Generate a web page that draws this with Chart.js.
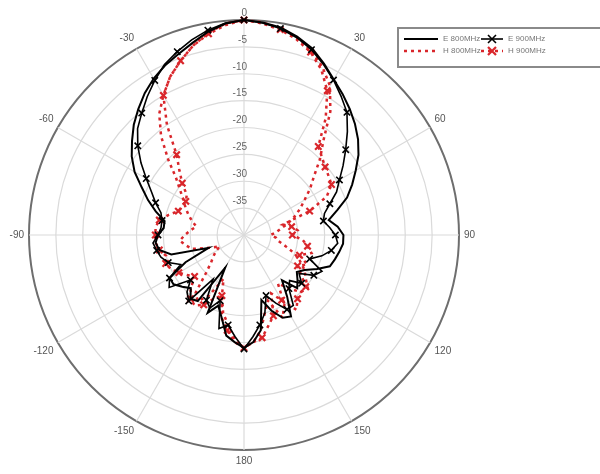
<!DOCTYPE html>
<html>
<head>
<meta charset="utf-8">
<script src="https://cdn.jsdelivr.net/npm/chart.js@4.4.0/dist/chart.umd.min.js"></script>
<style>
  html, body { margin: 0; padding: 0; background: #fff; }
  #wrap { position: relative; width: 600px; height: 474px; }
</style>
</head>
<body>
<div id="wrap"><canvas id="myChart"></canvas></div>
<script>
// angle in degrees, clockwise from the top (values > 180 are shown as negative)
const angles = [0, 5, 10, 15, 20, 25, 30, 35, 40, 45, 50, 55,
  60, 65, 70, 75, 80, 85, 90, 95, 100, 105, 110, 115,
  120, 125, 130, 135, 140, 145, 150, 155, 160, 165, 170, 175,
  180, 185, 190, 195, 200, 205, 210, 215, 220, 225, 230, 235,
  240, 245, 250, 255, 260, 265, 270, 275, 280, 285, 290, 295,
  300, 305, 310, 315, 320, 325, 330, 335, 340, 345, 350, 355];

// normalized gain in dB
const e800 = [0, -0.3, -0.8, -1.8, -3, -4.8, -6.6, -8, -9.4, -10.8, -12.3, -14,
  -16, -17.8, -19.6, -22, -24, -22.5, -21.5, -21.5, -22, -22.5, -23, -25,
  -27, -28, -27, -26, -29, -26, -22.5, -23, -25, -27.5, -22, -20,
  -19, -20, -21, -24, -26, -24, -33, -25, -24.5, -26, -25, -24,
  -24, -28, -33, -26, -24, -23.5, -24, -25, -25, -23, -21, -19,
  -16.5, -14.5, -12.8, -11, -9.4, -7.8, -6.4, -5.2, -4.2, -3, -1.6, -0.5];

const e900 = [0, -0.4, -1, -2, -3.3, -5, -6.7, -8.5, -10.2, -12.8, -15.3, -17.5,
  -19.5, -21, -23, -24.5, -25, -24, -23, -22.5, -23.5, -25, -27, -24,
  -25, -27.5, -26, -28, -27, -24, -24, -26, -28, -25, -23, -21,
  -18.8, -21, -23, -22, -27, -25, -26, -30, -24, -25, -27, -23,
  -24, -27, -25, -24, -23.5, -23, -24, -24.5, -24.5, -24, -22.5, -21,
  -19, -16.6, -14.2, -12, -10.4, -8.6, -6.8, -5, -3.7, -2.4, -1.3, -0.4];

const h800 = [0, -0.3, -1, -2, -3.5, -5.5, -8, -12, -17, -20, -23, -25,
  -27, -28.5, -30, -31.5, -33, -34, -35, -34, -33.5, -32, -30, -28.5,
  -27, -26, -24.5, -25, -27, -29, -25, -23, -27, -25, -22, -20,
  -19, -20.5, -23, -25, -28, -31, -27, -25, -26, -30, -32, -33,
  -34, -35, -33, -30, -29, -28, -29, -30, -31, -30, -29, -28,
  -27, -25.5, -23.5, -20, -16, -12.5, -10, -7.5, -5.5, -3.5, -1.8, -0.5];

const h900 = [0, -0.5, -1.2, -2.3, -3.8, -6, -9, -13.5, -18.5, -19.5, -20.3, -20.8,
  -21.2, -23, -27, -32.5, -31, -30, -31, -29, -28, -27, -29, -27,
  -28.5, -27, -25, -25, -24.5, -23, -26, -28, -24, -22.5, -20.6, -20,
  -19, -20, -22, -24, -28, -27, -25, -24, -24.5, -26, -28, -27,
  -26, -25, -24.5, -25, -24, -23.5, -23.5, -23.5, -24, -25.5, -27, -27.3,
  -27.5, -27, -25, -23, -20.5, -15, -10, -7.5, -5.5, -3.5, -2, -0.8];

const ringLabels = [0, -5, -10, -15, -20, -25, -30, -35];
const seriesNames = ['E 800MHz', 'E 900MHz', 'H 800MHz', 'H 900MHz'];

const RED = '#d9262b';
const FONT = '"Liberation Sans", Arial, sans-serif';

const markEvery10 = (ctx) => (ctx.index % 2 === 0 ? 4.5 : 0);

// radial tick labels, sitting just above each ring
const ringLabelPlugin = {
  id: 'ring_labels',
  beforeDatasetsDraw(chart) {
    const s = chart.scales.r;
    const c = chart.ctx;
    c.save();
    c.font = '10px ' + FONT;
    c.fillStyle = '#666';
    c.textAlign = 'right';
    c.textBaseline = 'middle';
    ringLabels.forEach((v) => {
      const d = s.getDistanceFromCenterForValue(v);
      c.fillText(String(v), s.xCenter + 3, s.yCenter - d - 7);
    });
    c.restore();
  },
};

// boxed 2x2 legend in the top right corner
const boxLegendPlugin = {
  id: 'box_legend',
  afterDraw(chart) {
    const c = chart.ctx;
    c.save();
    c.strokeStyle = '#8a8a8a';
    c.lineWidth = 2;
    c.strokeRect(398, 28, 220, 39);
    const cols = [{ x: 404, len: 34 }, { x: 481, len: 22 }];
    const rows = [39, 51];
    chart.data.datasets.forEach((ds, i) => {
      const col = cols[i % 2];
      const y = rows[Math.floor(i / 2)];
      c.strokeStyle = ds.borderColor;
      c.lineWidth = ds.borderWidth;
      c.setLineDash(ds.borderDash || []);
      c.beginPath();
      c.moveTo(col.x, y);
      c.lineTo(col.x + col.len, y);
      c.stroke();
      c.setLineDash([]);
      if (ds.legendMarker) {
        const mx = col.x + col.len / 2;
        const r = 4;
        c.strokeStyle = ds.pointBorderColor;
        c.lineWidth = ds.pointBorderWidth;
        c.beginPath();
        c.moveTo(mx - r, y - r); c.lineTo(mx + r, y + r);
        c.moveTo(mx - r, y + r); c.lineTo(mx + r, y - r);
        c.stroke();
      }
      c.font = '8px ' + FONT;
      c.fillStyle = '#777';
      c.textAlign = 'left';
      c.textBaseline = 'middle';
      c.fillText(ds.label, col.x + col.len + 5, y);
    });
    c.restore();
  },
};

new Chart(document.getElementById('myChart'), {
  type: 'radar',
  data: {
    labels: angles,
    datasets: [
      {
        label: seriesNames[0],
        data: e800,
        borderColor: '#000',
        borderWidth: 2,
        pointRadius: 0,
        fill: false,
      },
      {
        label: seriesNames[1],
        data: e900,
        borderColor: '#000',
        borderWidth: 1.6,
        pointStyle: 'crossRot',
        pointRadius: markEvery10,
        pointBorderColor: '#000',
        pointBorderWidth: 1.6,
        legendMarker: true,
        fill: false,
      },
      {
        label: seriesNames[2],
        data: h800,
        borderColor: RED,
        borderWidth: 2.5,
        borderDash: [3, 4],
        pointRadius: 0,
        fill: false,
      },
      {
        label: seriesNames[3],
        data: h900,
        borderColor: RED,
        borderWidth: 2.5,
        borderDash: [3, 4],
        pointStyle: 'crossRot',
        pointRadius: markEvery10,
        pointBorderColor: RED,
        pointBorderWidth: 2.2,
        legendMarker: true,
        fill: false,
      },
    ],
  },
  options: {
    responsive: true,
    maintainAspectRatio: false,
    animation: false,
    layout: { padding: { left: 0, right: 114, top: 3, bottom: 7 } },
    elements: { line: { tension: 0 } },
    scales: {
      r: {
        min: -40,
        max: 0,
        ticks: { stepSize: 5, display: false },
        grid: {
          circular: true,
          color: (ctx) => (ctx.tick && ctx.tick.value === 0 ? '#6e6e6e' : '#dadada'),
          lineWidth: (ctx) => (ctx.tick && ctx.tick.value === 0 ? 2 : 1.2),
        },
        angleLines: {
          color: (ctx) => (ctx.index % 6 === 0 ? '#dadada' : 'rgba(0,0,0,0)'),
          lineWidth: 1.2,
        },
        pointLabels: {
          font: { size: 10, family: FONT },
          color: '#555',
          callback: (label) => {
            if (label % 30 !== 0 || label === 0) return '';
            return String(label > 180 ? label - 360 : label);
          },
        },
      },
    },
    plugins: {
      legend: { display: false },
      tooltip: { enabled: false },
    },
  },
  plugins: [ringLabelPlugin, boxLegendPlugin],
});
</script>
</body>
</html>
